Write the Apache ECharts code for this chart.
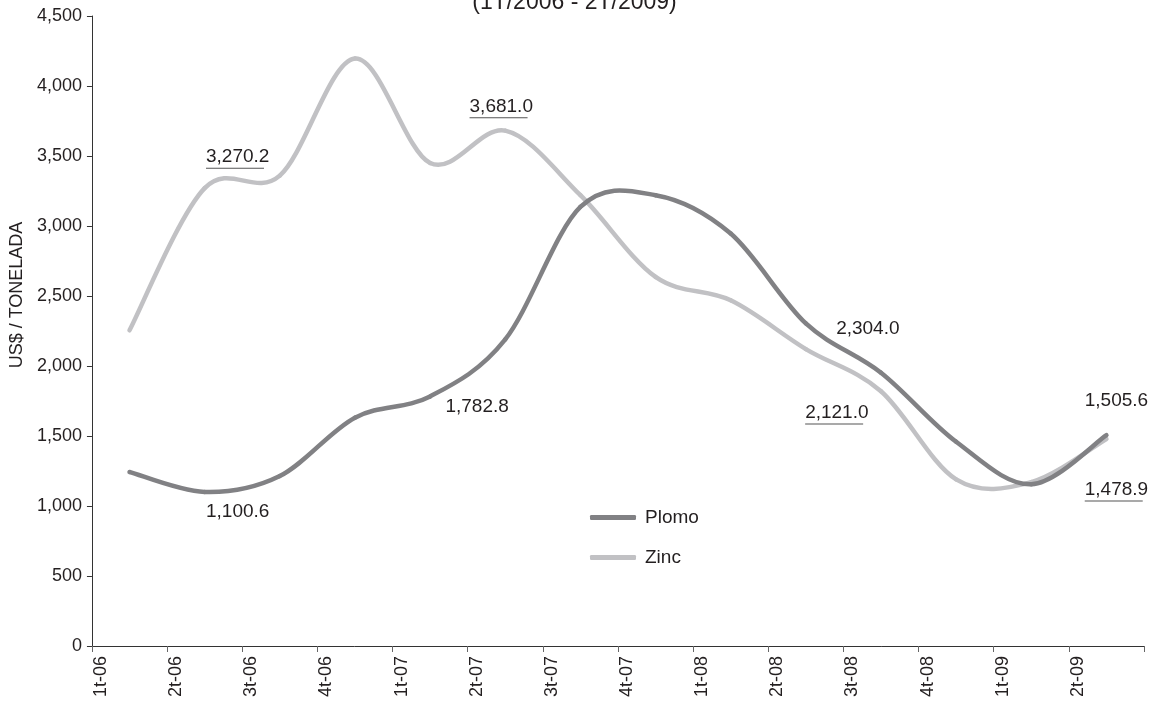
<!DOCTYPE html>
<html>
<head>
<meta charset="utf-8">
<script src="https://cdn.jsdelivr.net/npm/echarts@6/dist/echarts.min.js"></script>
<style>
html,body{margin:0;padding:0;background:#fff;}
#chart{width:1149px;height:706px;}
</style>
</head>
<body>
<div id="chart"></div>
<script>
var categories = ['1t-06','2t-06','3t-06','4t-06','1t-07','2t-07','3t-07','4t-07','1t-08','2t-08','3t-08','4t-08','1t-09','2t-09'];
var plomo = [1243, 1100.6, 1214, 1631, 1782.8, 2190, 3136, 3220, 2946, 2304.0, 1952, 1459, 1155, 1505.6];
var zinc  = [2255, 3270.2, 3360, 4196, 3450, 3681.0, 3220, 2636, 2469, 2121.0, 1820, 1190, 1171, 1478.9];
var yTicks = [0, 500, 1000, 1500, 2000, 2500, 3000, 3500, 4000, 4500];
var titleText = '(1T/2006 - 2T/2009)';
var yName = 'US$ / TONELADA';

var FONT = 'Liberation Sans, Arial, sans-serif';
var TXT = '#231f20';
var C_PLOMO = '#818184';
var C_ZINC = '#c1c1c4';
var LW = 4.5;

function fmt1(v){ return v.toLocaleString('en-US',{minimumFractionDigits:1, maximumFractionDigits:1}); }

// label placements (style only): index -> offset
var plomoLabels = {1:[33,20], 4:[47,10], 9:[62,5], 13:[10,-34]};
var zincLabels  = {1:[33,-30], 5:[-4,-23], 9:[31,65], 13:[10,52]};

function buildData(values, labels, underline){
  return values.map(function(v,i){
    if(labels[i]){
      var lab = {show:true, position:'inside', offset:labels[i], fontFamily:FONT};
      if(underline){
        lab.formatter = function(p){ return '{t|' + fmt1(p.value) + '}\n{u| }'; };
        lab.rich = {
          t:{fontSize:19, color:TXT, fontFamily:FONT, lineHeight:20},
          u:{width:58, height:1, lineHeight:2, fontSize:1, backgroundColor:'#555', align:'left'}
        };
      } else {
        lab.formatter = function(p){ return fmt1(p.value); };
        lab.fontSize = 19; lab.color = TXT;
      }
      return {value:v, label:lab};
    }
    return v;
  });
}

// Smoothed curve (Catmull-Rom style, like the spreadsheet's smoothed lines),
// one bezier segment per data point, positioned through the axes via api.coord.
function curveRenderer(color){
  return function(params, api){
    var i = params.dataIndexInside;
    var n = params.dataInsideLength;
    if (i >= n - 1) return null;
    function P(k){
      k = Math.max(0, Math.min(n - 1, k));
      return api.coord([api.value(0, k), api.value(1, k)]);
    }
    var p0 = P(i - 1), p1 = P(i), p2 = P(i + 1), p3 = P(i + 2);
    var t = 1 / 6;
    return {
      type:'bezierCurve',
      shape:{
        x1:p1[0], y1:p1[1], x2:p2[0], y2:p2[1],
        cpx1:p1[0] + (p2[0] - p0[0]) * t, cpy1:p1[1] + (p2[1] - p0[1]) * t,
        cpx2:p2[0] - (p3[0] - p1[0]) * t, cpy2:p2[1] - (p3[1] - p1[1]) * t
      },
      style:{stroke:color, lineWidth:LW, lineCap:'round', fill:null}
    };
  };
}
function pairs(values){ return values.map(function(v,i){ return [i, v]; }); }

// labels of the second (tick-aligned) axis: categories plus an empty last tick
var tickLabels = categories.concat(['']);

var chart = echarts.init(document.getElementById('chart'), null, {renderer:'canvas'});
chart.setOption({
  animation:false,
  backgroundColor:'#fff',
  title:{text:titleText, left:'center', top:-14, textStyle:{fontFamily:FONT, fontSize:23, fontWeight:'normal', color:TXT}},
  legend:{
    orient:'vertical', left:590, top:508, padding:0, itemGap:21, itemWidth:46, itemHeight:5,
    icon:'roundRect',
    textStyle:{fontFamily:FONT, fontSize:19, color:TXT, padding:[0,0,0,4]},
    data:[{name:'Plomo', itemStyle:{color:C_PLOMO}}, {name:'Zinc', itemStyle:{color:C_ZINC}}]
  },
  grid:{left:87, right:5, top:16, bottom:60, containLabel:false},
  xAxis:[{
    type:'category', data:categories, boundaryGap:true,
    axisLine:{lineStyle:{color:'#333', width:1}},
    axisTick:{show:true, length:6, lineStyle:{color:'#666'}},
    axisLabel:{show:false}
  },{
    type:'category', data:tickLabels, boundaryGap:false, position:'bottom',
    axisLine:{show:false}, axisTick:{show:false}, splitLine:{show:false},
    axisLabel:{rotate:90, margin:10, interval:0, fontFamily:FONT, fontSize:18, color:TXT, verticalAlign:'top'}
  }],
  yAxis:{
    type:'value', min:yTicks[0], max:yTicks[yTicks.length-1], interval:yTicks[1]-yTicks[0],
    name:yName, nameLocation:'middle', nameGap:61, nameRotate:90,
    nameTextStyle:{fontFamily:FONT, fontSize:18, color:TXT, padding:[0,0,0,72]},
    axisLine:{show:true, lineStyle:{color:'#333', width:1}},
    axisTick:{show:true, length:5, lineStyle:{color:'#333'}},
    splitLine:{show:false},
    axisLabel:{margin:10, fontFamily:FONT, fontSize:18, color:TXT, formatter:function(v){return v.toLocaleString('en-US');}}
  },
  series:[
    {name:'Zinc curve', type:'custom', xAxisIndex:0, renderItem:curveRenderer(C_ZINC),
     data:pairs(zinc), z:2, silent:true},
    {name:'Plomo curve', type:'custom', xAxisIndex:0, renderItem:curveRenderer(C_PLOMO),
     data:pairs(plomo), z:3, silent:true},
    {name:'Plomo', type:'line', xAxisIndex:0, smooth:false, symbol:'circle', symbolSize:2, showSymbol:true,
     itemStyle:{color:C_PLOMO}, lineStyle:{color:C_PLOMO, width:0, opacity:0},
     emphasis:{disabled:true}, z:1,
     data:buildData(plomo, plomoLabels, false)},
    {name:'Zinc', type:'line', xAxisIndex:0, smooth:false, symbol:'circle', symbolSize:2, showSymbol:true,
     itemStyle:{color:C_ZINC}, lineStyle:{color:C_ZINC, width:0, opacity:0},
     emphasis:{disabled:true}, z:1,
     data:buildData(zinc, zincLabels, true)}
  ]
});
</script>
</body>
</html>
